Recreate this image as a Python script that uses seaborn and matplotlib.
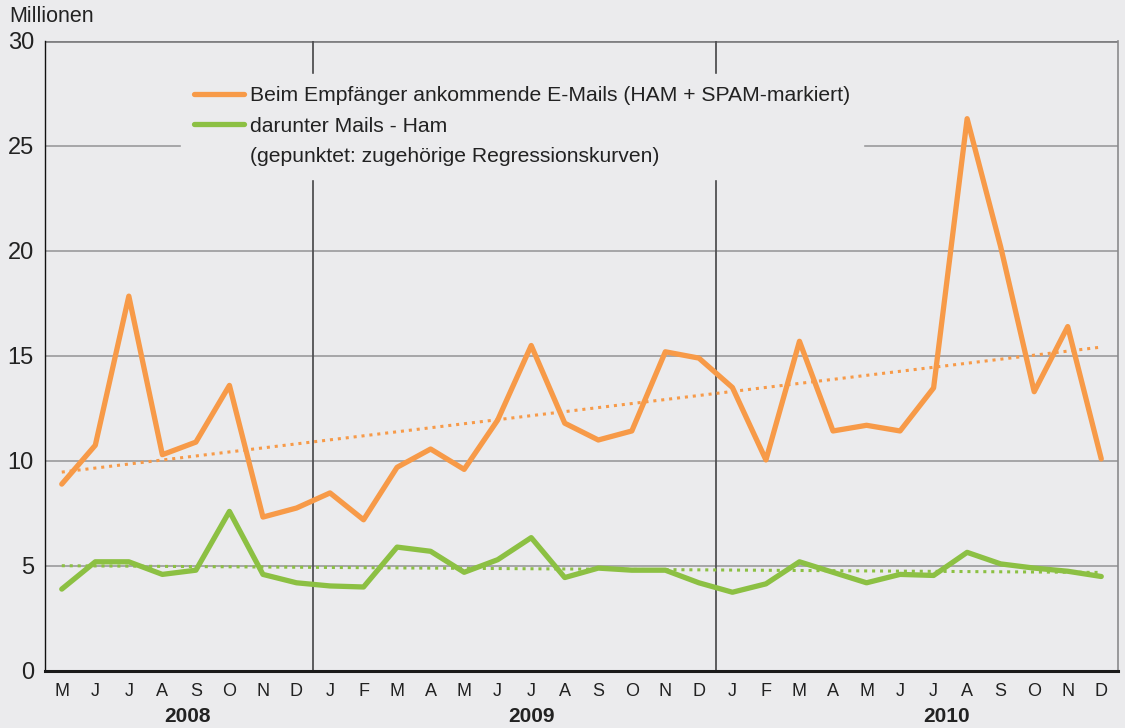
import matplotlib
matplotlib.use('agg')
import matplotlib.pyplot as plt
from matplotlib.lines import Line2D
import seaborn as sns
import numpy as np
import pandas as pd

# monthly values, May 2008 - Dec 2010 (Millionen)
months = ['M', 'J', 'J', 'A', 'S', 'O', 'N', 'D',
          'J', 'F', 'M', 'A', 'M', 'J', 'J', 'A', 'S', 'O', 'N', 'D',
          'J', 'F', 'M', 'A', 'M', 'J', 'J', 'A', 'S', 'O', 'N', 'D']
years = ['2008', '2009', '2010']
year_pos = [3.75, 14.0, 26.4]
year_breaks = [7.5, 19.5]

total = [8.9, 10.75, 17.85, 10.3, 10.9, 13.6, 7.33, 7.76,
         8.48, 7.2, 9.7, 10.57, 9.6, 11.95, 15.5, 11.8, 11.0, 11.43, 15.2, 14.9,
         13.5, 10.05, 15.7, 11.43, 11.7, 11.43, 13.48, 26.3, 20.2, 13.3, 16.4, 10.1]
ham = [3.9, 5.2, 5.2, 4.6, 4.8, 7.6, 4.6, 4.2,
       4.05, 4.0, 5.9, 5.7, 4.7, 5.3, 6.35, 4.45, 4.9, 4.8, 4.8, 4.2,
       3.75, 4.15, 5.2, 4.7, 4.2, 4.6, 4.55, 5.65, 5.1, 4.9, 4.75, 4.5]

lbl_total = 'Beim Empfänger ankommende E-Mails (HAM + SPAM-markiert)'
lbl_ham = 'darunter Mails - Ham'
lbl_note = '(gepunktet: zugehörige Regressionskurven)'

c_total = '#f79a48'
c_ham = '#8cc043'
bg = '#ebebed'

df = pd.DataFrame({'idx': np.arange(len(months)), 'total': total, 'ham': ham})

sns.set_style('white')
plt.rcParams['font.family'] = ['Liberation Sans', 'DejaVu Sans']

fig = plt.figure(figsize=(11.25, 7.28), dpi=100, facecolor=bg)
ax = fig.add_axes([0.04, 0.0783, 0.9538, 0.8654])
ax.set_facecolor(bg)

# grid
for v in range(5, 30, 5):
    ax.axhline(v, color='#9a9a9c', lw=1.2, zorder=1)
ax.axhline(30, color='#808082', lw=2, zorder=1)
for b in year_breaks:
    ax.axvline(b, color='#505052', lw=1.3, zorder=1)

sns.lineplot(data=df, x='idx', y='total', color=c_total, lw=3.8, ax=ax, zorder=4)
sns.lineplot(data=df, x='idx', y='ham', color=c_ham, lw=3.8, ax=ax, zorder=4)
sns.regplot(data=df, x='idx', y='total', scatter=False, ci=None, ax=ax,
            line_kws=dict(color=c_total, lw=2.2, ls=(0, (1, 1.6)), zorder=3))
sns.regplot(data=df, x='idx', y='ham', scatter=False, ci=None, ax=ax,
            line_kws=dict(color=c_ham, lw=2.2, ls=(0, (1, 1.6)), zorder=3))

ax.set_xlim(-0.5, len(months) - 0.5)
ax.set_ylim(0, 30)
ax.set_yticks(range(0, 31, 5))
ax.tick_params(axis='y', labelsize=17, length=6, width=1.2, color='#9a9a9c', pad=2, labelcolor='#222')

ax.set_xticks(np.arange(len(months) + 1) - 0.5)
ax.set_xticklabels([])
ax.set_xticks(np.arange(len(months)), minor=True)
ax.set_xticklabels(months, minor=True, fontsize=13, color='#222')
ax.tick_params(axis='x', which='major', length=6, width=1.2, color='#707072')
ax.tick_params(axis='x', which='minor', length=0, pad=9)
for p, y in zip(year_pos, years):
    ax.text(p, -0.057, y, transform=ax.get_xaxis_transform(), ha='center', va='top',
            fontsize=15, fontweight='bold', color='#222')

ax.set_xlabel('')
ax.set_ylabel('')
ax.text(-0.033, 1.022, 'Millionen', transform=ax.transAxes, fontsize=15.5, color='#222', va='bottom')

ax.spines['top'].set_visible(False)
ax.spines['left'].set_color('#111')
ax.spines['left'].set_linewidth(1)
ax.spines['right'].set_color('#8a8a8c')
ax.spines['right'].set_linewidth(1.2)
ax.spines['bottom'].set_color('#1a1a1a')
ax.spines['bottom'].set_linewidth(2.2)

handles = [Line2D([], [], color=c_total, lw=3.8),
           Line2D([], [], color=c_ham, lw=3.8),
           Line2D([], [], color='none')]
leg = ax.legend(handles, [lbl_total, lbl_ham, lbl_note], loc='upper left',
                bbox_to_anchor=(0.117, 0.965), frameon=True, facecolor=bg, edgecolor=bg,
                framealpha=1, fontsize=15.2, handlelength=2.4, handletextpad=0.25,
                labelspacing=0.55, borderpad=0.6)
leg.set_zorder(2)
for t in leg.get_texts():
    t.set_color('#222')

fig.savefig('out.png', dpi=100, facecolor=bg)
